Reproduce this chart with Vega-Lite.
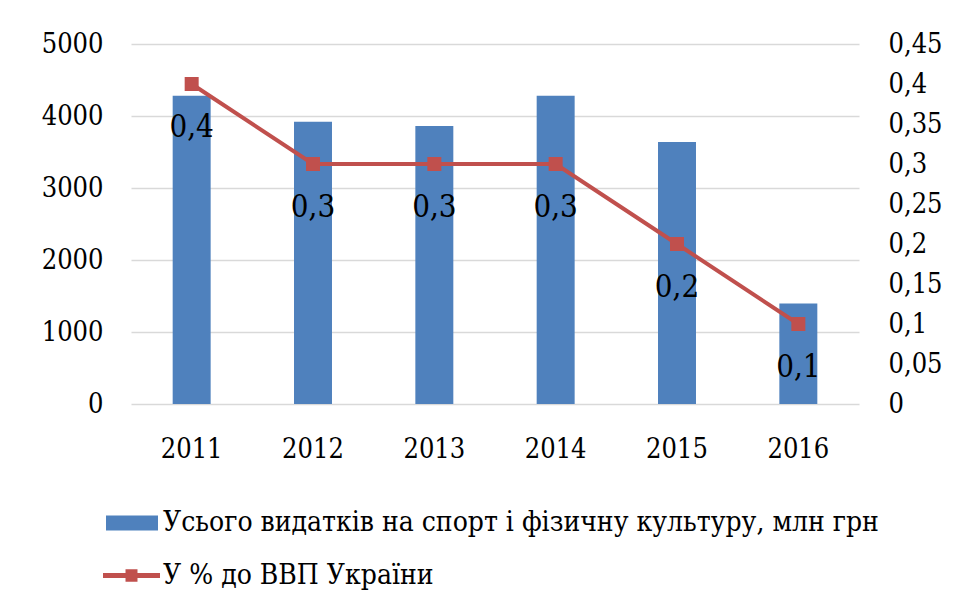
{
  "$schema": "https://vega.github.io/schema/vega-lite/v6.json",
  "width": 728,
  "height": 360,
  "autosize": {"type": "none"},
  "padding": {"left": 131, "top": 44, "right": 98, "bottom": 199},
  "background": "white",
  "config": {
    "view": {"stroke": null},
    "font": "DejaVu Serif Condensed, DejaVu Serif",
    "axis": {"labelFont": "DejaVu Serif Condensed, DejaVu Serif", "labelColor": "#000000", "labelFontSize": 27, "domain": false, "ticks": false, "title": null, "labelOverlap": false},
    "legend": {"labelFont": "DejaVu Serif Condensed, DejaVu Serif", "labelColor": "#000000", "labelFontSize": 28, "labelLimit": 1000}
  },
  "data": {
    "values": [
      {"year": "2011", "total": 4280, "pct": 0.4, "pct_label": "0,4"},
      {"year": "2012", "total": 3920, "pct": 0.3, "pct_label": "0,3"},
      {"year": "2013", "total": 3860, "pct": 0.3, "pct_label": "0,3"},
      {"year": "2014", "total": 4280, "pct": 0.3, "pct_label": "0,3"},
      {"year": "2015", "total": 3640, "pct": 0.2, "pct_label": "0,2"},
      {"year": "2016", "total": 1395, "pct": 0.1, "pct_label": "0,1"}
    ]
  },
  "encoding": {
    "x": {"field": "year", "type": "ordinal", "scale": {"paddingInner": 0, "paddingOuter": 0},
      "axis": {"labelAngle": 0, "labelPadding": 32, "grid": false}}
  },
  "layer": [
    {
      "mark": {"type": "bar", "width": {"band": 0.313}, "color": "#4f81bd"},
      "encoding": {
        "y": {"field": "total", "type": "quantitative", "scale": {"domain": [0, 5000], "nice": false},
          "axis": {"values": [0, 1000, 2000, 3000, 4000, 5000], "format": "d", "grid": true, "gridColor": "#d9d9d9", "gridWidth": 1.3, "labelPadding": 28, "orient": "left"}},
        "color": {"datum": "Усього видатків на спорт і фізичну культуру, млн грн", "type": "nominal",
          "scale": {"range": ["#4f81bd"]},
          "legend": {"title": null, "orient": "none", "legendX": -25, "legendY": 453,
            "symbolType": "M-1,-0.29H1V0.29H-1Z", "symbolSize": 2704, "labelOffset": 5,
            "symbolStrokeWidth": 0}}
      }
    },
    {
      "layer": [
        {
          "mark": {"type": "line", "color": "#c0504d", "strokeWidth": 4},
          "encoding": {
            "y": {"field": "pct", "type": "quantitative", "scale": {"domain": [0, 0.45], "nice": false},
              "axis": {"orient": "right", "values": [0, 0.05, 0.1, 0.15, 0.2, 0.25, 0.3, 0.35, 0.4, 0.45], "labelExpr": "replace(format(datum.value, '.2~f'), '.', ',')", "grid": false, "labelPadding": 29, "labelOverlap": false, "labelBound": false}},
            "color": {"datum": "У % до ВВП України", "type": "nominal", "scale": {"range": ["#c0504d"]},
              "legend": {"title": null, "orient": "none", "legendX": -28, "legendY": 503,
                "symbolType": "M-1,-0.09H1V0.09H-1Z M-0.21,-0.22H0.21V0.22H-0.21Z", "symbolSize": 3249, "labelOffset": 3,
                "symbolFillColor": "#c0504d", "symbolStrokeWidth": 0,
                "encode": {"symbols": {"update": {"fill": {"value": "#c0504d"}, "strokeWidth": {"value": 0}}}}}}
          }
        },
        {
          "mark": {"type": "point", "shape": "square", "filled": true, "size": 196, "color": "#c0504d", "opacity": 1},
          "encoding": {"y": {"field": "pct", "type": "quantitative", "axis": {"orient": "right", "values": [0, 0.05, 0.1, 0.15, 0.2, 0.25, 0.3, 0.35, 0.4, 0.45], "labelExpr": "replace(format(datum.value, '.2~f'), '.', ',')", "grid": false, "labelPadding": 29, "labelOverlap": false}}}
        },
        {
          "mark": {"type": "text", "dy": 44, "fontSize": 31, "font": "DejaVu Serif Condensed, DejaVu Serif", "color": "#000000"},
          "encoding": {"y": {"field": "pct", "type": "quantitative", "axis": {"orient": "right", "values": [0, 0.05, 0.1, 0.15, 0.2, 0.25, 0.3, 0.35, 0.4, 0.45], "labelExpr": "replace(format(datum.value, '.2~f'), '.', ',')", "grid": false, "labelPadding": 29, "labelOverlap": false}}, "text": {"field": "pct_label"}}
        }
      ]
    }
  ],
  "resolve": {"scale": {"y": "independent", "color": "independent"}, "legend": {"color": "independent"}}
}
